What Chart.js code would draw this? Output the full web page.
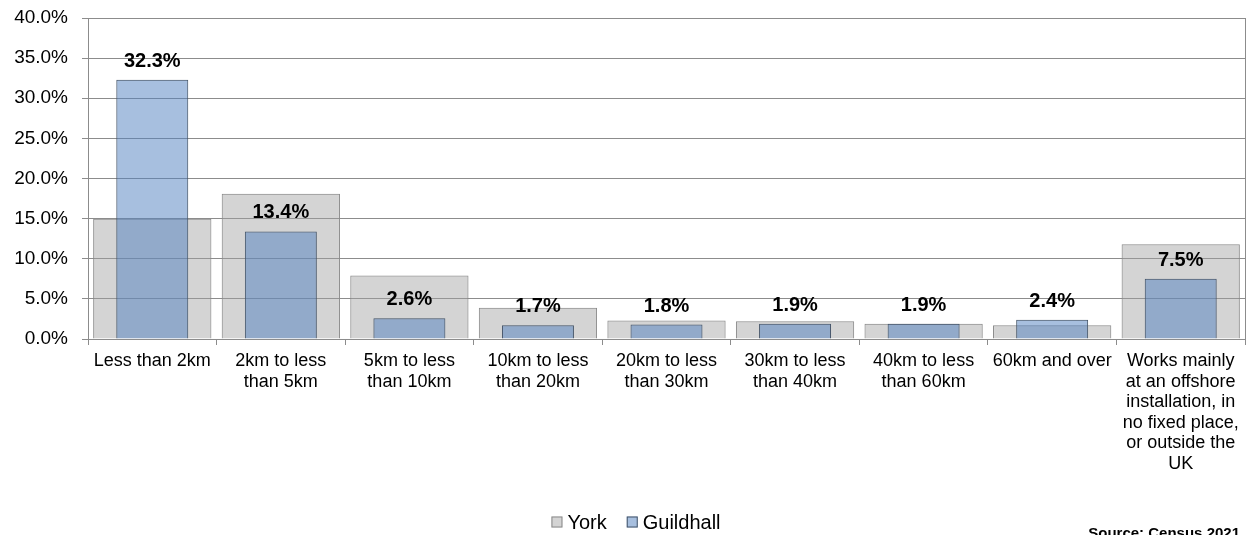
<!DOCTYPE html>
<html>
<head>
<meta charset="utf-8">
<script src="https://cdn.jsdelivr.net/npm/chart.js@4"></script>
<style>
  body { margin: 0; background: #fff; }
  #wrap { position: relative; width: 1249px; height: 535px; }
</style>
</head>
<body>
<div id="wrap"><canvas id="distanceChart"></canvas></div>
<script>
// Distance travelled to work - York vs Guildhall
const categories = [
  "Less than 2km",
  ["2km to less", "than 5km"],
  ["5km to less", "than 10km"],
  ["10km to less", "than 20km"],
  ["20km to less", "than 30km"],
  ["30km to less", "than 40km"],
  ["40km to less", "than 60km"],
  "60km and over",
  ["Works mainly", "at an offshore", "installation, in", "no fixed place,", "or outside the", "UK"]
];
const yorkValues = [15.0, 18.1, 7.9, 3.9, 2.3, 2.2, 1.9, 1.7, 11.8];
const guildhallValues = [32.3, 13.4, 2.6, 1.7, 1.8, 1.9, 1.9, 2.4, 7.5];
const yMax = 40;
const yStep = 5;
const sourceText = "Source: Census 2021";

const fontFamily = "'Liberation Sans', Arial, sans-serif";

// frame on the right, value labels, legend and source note
const extras = {
  id: "extras",
  beforeDatasetsDraw(chart) {
    const { ctx, chartArea: a } = chart;
    ctx.save();
    ctx.strokeStyle = "#8c8c8c";
    ctx.lineWidth = 1;
    ctx.beginPath();
    ctx.moveTo(Math.round(a.right) + 0.5, a.top);
    ctx.lineTo(Math.round(a.right) + 0.5, a.bottom);
    ctx.stroke();
    ctx.restore();
  },
  afterDatasetsDraw(chart) {
    const ctx = chart.ctx;
    const meta = chart.getDatasetMeta(1);
    ctx.save();
    ctx.fillStyle = "#000";
    ctx.font = "bold 20px " + fontFamily;
    ctx.textAlign = "center";
    ctx.textBaseline = "alphabetic";
    meta.data.forEach((bar, i) => {
      ctx.fillText(guildhallValues[i].toFixed(1) + "%", bar.x, bar.y - 13);
    });

    // legend
    const sets = chart.data.datasets;
    ctx.font = "20px " + fontFamily;
    const box = 11, gapText = 5, gapItem = 20;
    let total = 0;
    sets.forEach((ds, i) => {
      total += box + gapText + ctx.measureText(ds.label).width + (i ? gapItem : 0);
    });
    let x = 636 - total / 2;
    const cy = 522;
    ctx.textAlign = "left";
    ctx.textBaseline = "middle";
    sets.forEach((ds) => {
      ctx.fillStyle = ds.backgroundColor;
      ctx.fillRect(x, cy - box / 2, box, box);
      ctx.strokeStyle = ds.borderColor;
      ctx.lineWidth = 1;
      ctx.strokeRect(x + 0.5, cy - box / 2 + 0.5, box - 1, box - 1);
      x += box + gapText;
      ctx.fillStyle = "#000";
      ctx.fillText(ds.label, x, cy + 1);
      x += ctx.measureText(ds.label).width + gapItem;
    });

    ctx.font = "bold 15px " + fontFamily;
    ctx.textAlign = "right";
    ctx.textBaseline = "alphabetic";
    ctx.fillText(sourceText, chart.width - 9, 538);
    ctx.restore();
  }
};

const ctx = document.getElementById("distanceChart").getContext("2d");
new Chart(ctx, {
  type: "bar",
  data: {
    labels: categories,
    datasets: [
      {
        label: "York",
        data: yorkValues,
        backgroundColor: "rgba(160, 160, 160, 0.45)",
        borderColor: "#8a8a8a",
        borderWidth: 1,
        grouped: false,
        categoryPercentage: 1,
        barPercentage: 0.92,
        order: 2
      },
      {
        label: "Guildhall",
        data: guildhallValues,
        backgroundColor: "rgba(79, 127, 191, 0.5)",
        borderColor: "#445468",
        borderWidth: 1,
        grouped: false,
        categoryPercentage: 1,
        barPercentage: 0.56,
        order: 1
      }
    ]
  },
  options: {
    responsive: true,
    maintainAspectRatio: false,
    animation: false,
    layout: { padding: { left: 0, right: 4, top: 18, bottom: 0 } },
    plugins: {
      tooltip: { enabled: false },
      legend: { display: false }
    },
    scales: {
      x: {
        ticks: {
          color: "#000",
          font: { family: fontFamily, size: 18, lineHeight: 1.14 },
          maxRotation: 0,
          autoSkip: false,
          padding: 6
        },
        grid: {
          offset: true,
          drawOnChartArea: false,
          tickLength: 6,
          color: "#8c8c8c"
        },
        border: { color: "#8c8c8c" },
        afterFit: (scale) => { scale.height = 196; }
      },
      y: {
        min: 0,
        max: yMax,
        ticks: {
          stepSize: yStep,
          color: "#000",
          font: { family: fontFamily, size: 19 },
          padding: 14,
          callback: (v) => v.toFixed(1) + "%"
        },
        grid: { color: "#8c8c8c", tickLength: 6 },
        border: { color: "#8c8c8c" },
        afterFit: (scale) => {
          scale.width = 88;
          scale.paddingTop = 0;
          scale.paddingBottom = 0;
        }
      }
    }
  },
  plugins: [extras]
});
</script>
</body>
</html>
